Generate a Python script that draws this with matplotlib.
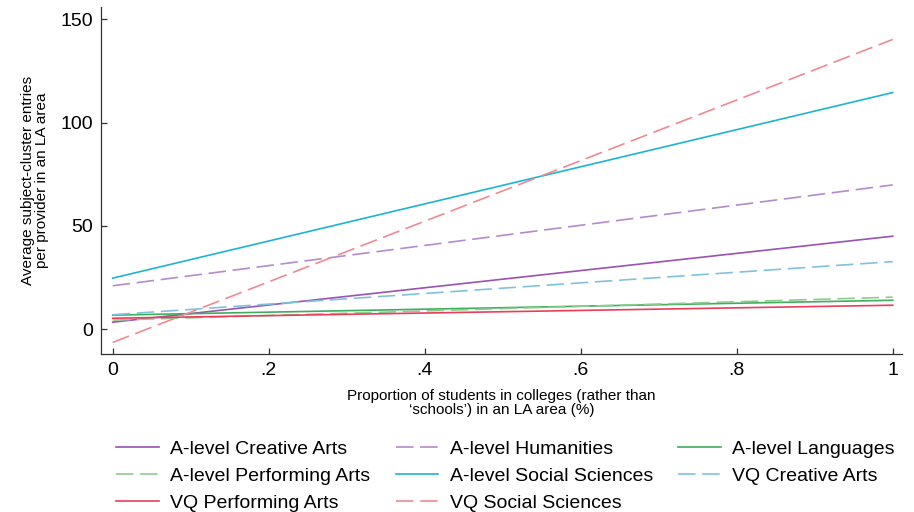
import numpy as np
import matplotlib
matplotlib.use("Agg")
import matplotlib.pyplot as plt

plt.rcParams["font.family"] = ["Liberation Sans", "DejaVu Sans"]

# fitted lines: value at x=0 and at x=1
series = [
    "A-level Creative Arts",
    "A-level Humanities",
    "A-level Languages",
    "A-level Performing Arts",
    "A-level Social Sciences",
    "VQ Creative Arts",
    "VQ Performing Arts",
    "VQ Social Sciences",
]
start_vals = [3.4, 21.0, 6.8, 4.4, 24.7, 7.0, 5.3, -6.4]
end_vals = [45.0, 69.8, 14.0, 15.5, 114.5, 32.7, 11.6, 140.2]
x_ends = [0, 1]

colors = ["#9A52B3", "#B48BCB", "#3EAE5B", "#8FCB8F",
          "#1DB3D4", "#7FC2DE", "#EA3D5A", "#EE8A94"]
dashed = [False, True, False, True, False, True, False, True]

xticks = [0, 0.2, 0.4, 0.6, 0.8, 1]
xticklabels = ["0", ".2", ".4", ".6", ".8", "1"]
yticks = [0, 50, 100, 150]


def main():
    fig = plt.figure(figsize=(9.14, 5.12), dpi=100)
    ax = fig.add_axes([0.1105, 0.3086, 0.8765, 0.6774])

    handles = []
    for name, y0, y1, c, d in zip(series, start_vals, end_vals, colors, dashed):
        line, = ax.plot(x_ends, [y0, y1], color=c, lw=1.2, label=name)
        if d:
            line.set_dashes((10.5, 4))
        handles.append(line)

    ax.set_xlim(-0.015, 1.012)
    ax.set_ylim(-12, 155.8)
    ax.set_xticks(xticks)
    ax.set_xticklabels(xticklabels)
    ax.set_yticks(yticks)
    ax.spines["top"].set_visible(False)
    ax.spines["right"].set_visible(False)
    for s in ("left", "bottom"):
        ax.spines[s].set_color("#333333")
        ax.spines[s].set_linewidth(0.9)
    ax.tick_params(labelsize=14, length=4, width=0.9, color="#333333",
                   direction="in", pad=6)

    ax.set_xlabel("Proportion of students in colleges (rather than\n\u2018schools\u2019) in an LA area (%)",
                  fontsize=11, linespacing=1.0, labelpad=7)
    ax.set_ylabel("Average subject-cluster entries\nper provider in an LA area",
                  fontsize=11, linespacing=1.0, labelpad=8)

    # legend filled row by row, three per row
    order = [0, 3, 6, 1, 4, 7, 2, 5]
    fig.legend([handles[i] for i in order], [series[i] for i in order],
               loc="upper center", bbox_to_anchor=(0.553, 0.156), ncol=3,
               frameon=False, fontsize=14, handlelength=2.2,
               columnspacing=1.32, labelspacing=0.5, handletextpad=0.57,
               borderaxespad=0)

    fig.savefig("out.png", dpi=100, facecolor="white")


if __name__ == "__main__":
    main()
